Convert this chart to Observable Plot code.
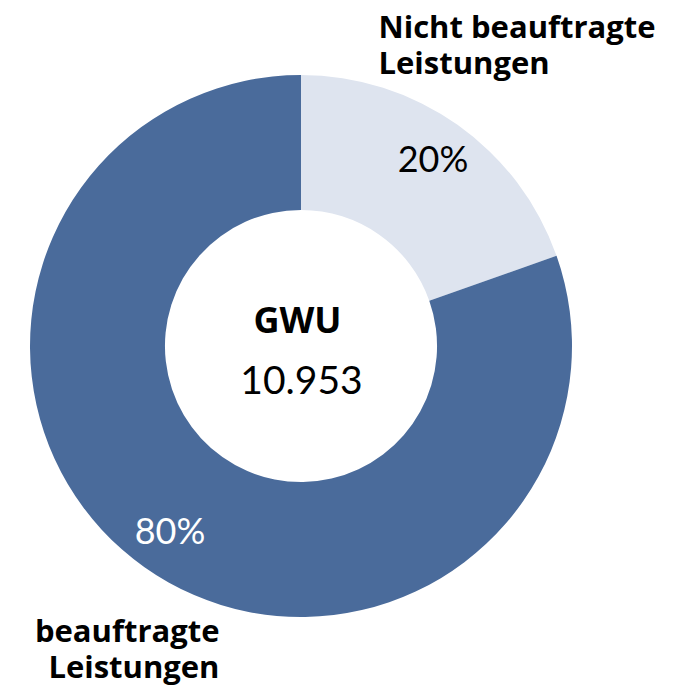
<!DOCTYPE html>
<html>
<head>
<meta charset="utf-8">
<script src="https://cdn.jsdelivr.net/npm/d3@7"></script>
<script src="https://cdn.jsdelivr.net/npm/@observablehq/plot@0.6"></script>
<style>
  html, body { margin: 0; padding: 0; background: #fff; }
  #chart svg { display: block; }
</style>
</head>
<body>
<div id="chart"></div>
<script>
// ---- data ----
const categories = ["Nicht beauftragte\nLeistungen", "beauftragte\nLeistungen"];
const shares = [19.6, 80.4];
const shareLabels = ["20%", "80%"];
const centerTitle = ["GWU"];
const centerValue = ["10.953"];
const colors = ["#dee4ef", "#4a6b9b"];
const labelColors = ["#000000", "#ffffff"];

// ---- build ----
const rows = categories.map((c, i) => ({category: c, share: shares[i], label: shareLabels[i], color: colors[i], labelColor: labelColors[i]}));
const arcs = d3.pie().sort(null).value(d => d.share)(rows);
const innerRatio = 0.502;
const labelRadius = 0.84;
const pctRows = arcs.map(a => {
  const m = (a.startAngle + a.endAngle) / 2;
  return {...a.data, x: labelRadius * Math.sin(m), y: labelRadius * Math.cos(m)};
});

const donut = (index, scales) => {
  const x = scales.x, y = scales.y;
  const cx = x(0), cy = y(0);
  const r = x(1) - x(0);
  const g = d3.create("svg:g").attr("transform", `translate(${cx},${cy})`);
  const arc = d3.arc().innerRadius(r * innerRatio).outerRadius(r);
  g.selectAll("path").data(arcs).join("path")
    .attr("d", arc)
    .attr("fill", d => d.data.color);
  return g.node();
};

const U = 271;
const bold = "'Open Sans', Lato, sans-serif";
const chart = Plot.plot({
  width: 674,
  height: 686,
  margin: 0,
  style: {fontFamily: "Lato, 'Open Sans', sans-serif", background: "#fff"},
  x: {domain: [-301 / U, 373 / U], range: [0, 674], axis: null},
  y: {domain: [-340 / U, 346 / U], range: [686, 0], axis: null},
  marks: [
    donut,
    Plot.text(pctRows, {x: "x", y: "y", text: "label", fill: "labelColor", fontSize: 36, textAnchor: "middle", lineAnchor: "middle"}),
    Plot.text(centerTitle, {x: () => -4 / U, y: () => (346 - 332 + 0.71 * 36) / U, text: d => d, fontSize: 36, fontWeight: "bold", fontFamily: bold, lineAnchor: "top", fill: "#000"}),
    Plot.text(centerValue, {x: () => 0 / U, y: () => (346 - 393 + 0.71 * 39) / U, text: d => d, fontSize: 39, lineAnchor: "top", fill: "#000"}),
    Plot.text([rows[0]], {x: () => (378 - 301) / U, y: () => (346 - 34 + 0.71 * 31) / U, text: "category", fontSize: 31, fontWeight: "bold", fontFamily: bold, textAnchor: "start", lineAnchor: "top", lineHeight: 36 / 31, fill: "#000"}),
    Plot.text([rows[1]], {x: () => (219 - 301) / U, y: () => (346 - 638 + 0.71 * 31) / U, text: "category", fontSize: 31, fontWeight: "bold", fontFamily: bold, textAnchor: "end", lineAnchor: "top", lineHeight: 36 / 31, fill: "#000"})
  ]
});
document.getElementById("chart").appendChild(chart);
</script>
</body>
</html>
